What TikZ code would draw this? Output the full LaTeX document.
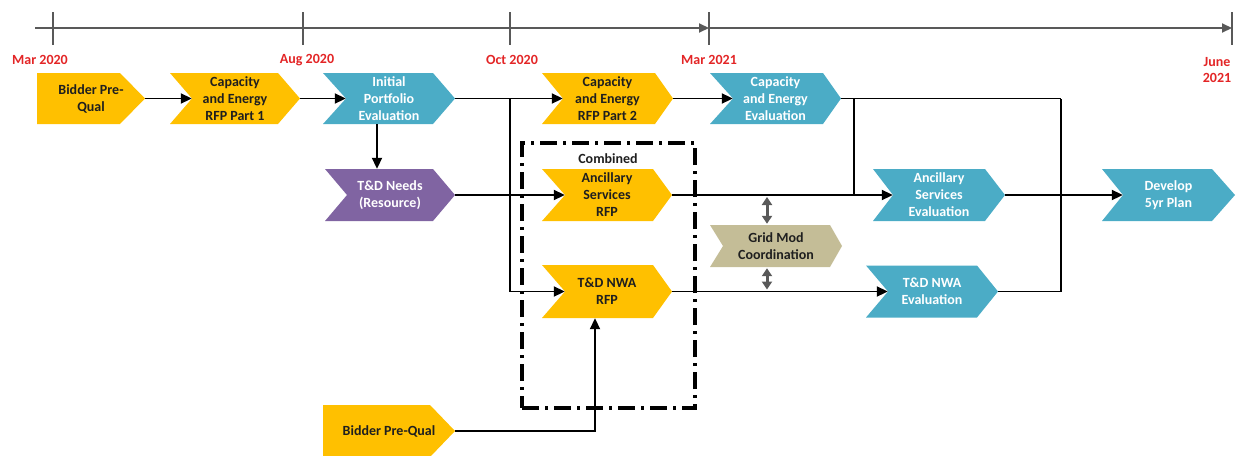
\documentclass[tikz,border=0pt]{standalone}
\usepackage{fontspec}
\setmainfont{Carlito}
\usetikzlibrary{arrows.meta,calc}
\definecolor{gold}{HTML}{FFC000}
\definecolor{teal}{HTML}{4BACC6}
\definecolor{purp}{HTML}{8064A2}
\definecolor{tan}{HTML}{C4BD97}
\definecolor{datered}{HTML}{E32526}
\definecolor{axisgray}{HTML}{595959}
\definecolor{ink}{HTML}{1F1F1F}
\begin{document}
\begin{tikzpicture}[x=1pt,y=-1pt,
  base/.style={inner sep=0pt, font=\bfseries\fontsize{14}{17}\selectfont, align=center, minimum height=51pt},
  chev/.style n args={3}{base, path picture={\fill[#1] (path picture bounding box.north west) -- ([xshift=-#3pt]path picture bounding box.north east) -- (path picture bounding box.east) -- ([xshift=-#3pt]path picture bounding box.south east) -- (path picture bounding box.south west) -- ([xshift=#2pt]path picture bounding box.west) -- cycle;}},
  onyellow/.style={text=ink},
  onblue/.style={text=white},
  datelbl/.style={text=datered, font=\bfseries\fontsize{14}{16}\selectfont, align=center, inner sep=0pt},
  tl/.style={draw=axisgray, line width=2pt},
  tlarr/.style={tl, -{Triangle[length=10pt,width=9pt]}},
  conn/.style={draw=black, line width=1.9pt},
  arr/.style={conn, -{Triangle[length=11pt,width=10pt]}},
  dbl/.style={draw=axisgray, line width=3pt, {Triangle[length=8pt,width=10pt]}-{Triangle[length=8pt,width=10pt]}},
  combbox/.style={draw=black, line width=3.5pt, dash pattern=on 17pt off 6pt on 3pt off 6pt, minimum width=173pt, minimum height=265pt, inner sep=0pt}
]
\useasboundingbox (0,0) rectangle (1241,455);

% timeline
\coordinate (t0) at (35,28);
\coordinate (t1) at (53,28);
\coordinate (t2) at (303,28);
\coordinate (t3) at (510,28);
\coordinate (t4) at (709,28);
\coordinate (t5) at (1232,28);
\draw[tlarr] (t0) -- (t4);
\draw[tlarr] (t4) -- (t5);
\foreach \t in {t1,t2,t3,t4,t5}{
  \draw[tl] ($(\t)+(0,-16)$) -- ($(\t)+(0,17)$);
}
\node[datelbl] (d1) at (40,60) {Mar 2020};
\node[datelbl] (d2) at (307,60) {Aug 2020};
\node[datelbl] (d3) at (512,60) {Oct 2020};
\node[datelbl] (d4) at (709,60) {Mar 2021};
\node[datelbl] (d5) at (1217,70) {June\\2021};

% combined box
\node[combbox] (comb) at (608.5,275.5) {};
\node[font=\bfseries\fontsize{14}{17}\selectfont, text=ink, inner sep=0pt] (combl) at (608,159) {Combined};

% shapes
\node[chev={gold}{0}{25}, onyellow, minimum width=108pt] (bpq1) at (91,98.5) {Bidder Pre-\\Qual};
\node[chev={gold}{22}{22}, onyellow, minimum width=130pt] (rfp1) at (235,98.5) {Capacity\\and Energy\\RFP Part 1};
\node[chev={teal}{23}{22}, onblue, minimum width=132pt] (ipe) at (389,98.5) {Initial\\Portfolio\\Evaluation};
\node[chev={gold}{21}{18}, onyellow, minimum width=131pt] (rfp2) at (607.5,98.5) {Capacity\\and Energy\\RFP Part 2};
\node[chev={teal}{23}{18}, onblue, minimum width=131pt] (cee) at (775.5,98.5) {Capacity\\and Energy\\Evaluation};
\node[chev={purp}{22}{22}, onblue, minimum width=130pt, minimum height=52pt] (tdn) at (390,195) {T\&D Needs\\(Resource)};
\node[chev={gold}{23}{19}, onyellow, minimum width=130pt, minimum height=52pt] (asr) at (607,195) {Ancillary\\Services\\RFP};
\node[chev={gold}{23}{19}, onyellow, minimum width=130pt, minimum height=53pt] (nwar) at (607,291.5) {T\&D NWA\\RFP};
\node[chev={tan}{13}{12}, onyellow, minimum width=132pt, minimum height=42pt] (gmc) at (776,246) {Grid Mod\\Coordination};
\node[chev={teal}{20}{20}, onblue, minimum width=132pt, minimum height=52pt] (ase) at (939,195) {Ancillary\\Services\\Evaluation};
\node[chev={teal}{22}{21}, onblue, minimum width=132pt, minimum height=52pt] (nwae) at (932,291.5) {T\&D NWA\\Evaluation};
\node[chev={teal}{21}{23}, onblue, minimum width=133pt, minimum height=52pt] (dev) at (1168.5,195) {Develop\\5yr Plan};
\node[chev={gold}{0}{25}, onyellow, minimum width=132pt, minimum height=52pt] (bpq2) at (389,431) {Bidder Pre-Qual};

% junctions
\coordinate (j1) at (510,98.5);
\coordinate (j2) at (854,98.5);
\coordinate (j3) at (1061,98.5);

% connectors
\draw[arr] (bpq1.east) -- ([xshift=22pt]rfp1.west);
\draw[arr] (rfp1.east) -- ([xshift=23pt]ipe.west);
\draw[arr] ([xshift=-12pt]ipe.south) -- ([xshift=-12pt]ipe.south |- tdn.north);
\draw[arr] (ipe.east) -- ([xshift=21pt]rfp2.west);
\draw[arr] (j1) |- ([xshift=23pt]nwar.west);
\draw[arr] (tdn.east) -- ([xshift=23pt]asr.west);
\draw[arr] (rfp2.east) -- ([xshift=23pt]cee.west);
\draw[conn] (cee.east) -- (j3);
\draw[conn] (j2) -- (j2 |- asr.east);
\draw[arr] (asr.east) -- ([xshift=20pt]ase.west);
\draw[arr] (ase.east) -- ([xshift=21pt]dev.west);
\draw[arr] (nwar.east) -- ([xshift=22pt]nwae.west);
\draw[conn] (nwae.east) -| (j3);
\draw[arr] (bpq2.east) -| ([xshift=-12pt]nwar.south);
\draw[dbl] ([xshift=-9pt,yshift=1pt]gmc.north) -- ([xshift=-9pt,yshift=-2pt]gmc.north |- asr.east);
\draw[dbl] ([xshift=-9pt,yshift=-1pt]gmc.south) -- ([xshift=-9pt,yshift=2pt]gmc.south |- nwar.east);
\end{tikzpicture}
\end{document}
